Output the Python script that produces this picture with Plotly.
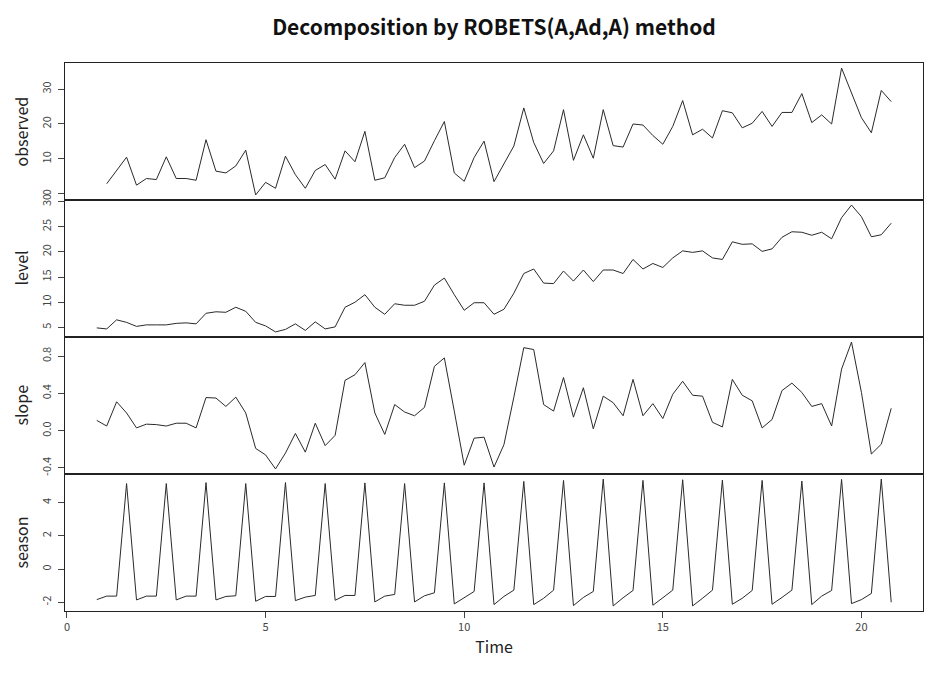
import plotly.graph_objects as go
from plotly.subplots import make_subplots

# Quarterly series: level/slope/season start at 0.75, observed starts at 1.0
start_components = 0.75
start_observed = 1.0
freq = 4

observed = [2.9, 6.7, 10.5, 2.5, 4.4, 4.1, 10.6, 4.4, 4.4, 3.9,
            15.5, 6.5, 6.0, 8.0, 12.5, -0.3, 3.3, 1.6, 10.8, 5.5,
            1.6, 6.7, 8.4, 4.2, 12.3, 9.2, 17.9, 3.9, 4.6, 10.4,
            14.2, 7.5, 9.4, 15.2, 20.7, 6.0, 3.6, 10.4, 15.1, 3.5,
            8.6, 13.7, 24.6, 14.7, 8.7, 12.3, 24.1, 9.6, 16.9, 10.2,
            24.1, 13.8, 13.4, 20.0, 19.7, 16.7, 14.2, 19.3, 26.7, 16.9,
            18.5, 16.0, 23.8, 23.2, 18.9, 20.2, 23.6, 19.3, 23.3, 23.3,
            28.7, 20.4, 22.6, 20.0, 36.0, 29.0, 21.8, 17.5, 29.6, 26.4]

level = [4.9, 4.7, 6.5, 6.0, 5.2, 5.5, 5.5, 5.5, 5.8, 5.9,
         5.7, 7.8, 8.1, 8.0, 9.0, 8.2, 6.0, 5.3, 4.1, 4.6,
         5.7, 4.4, 6.1, 4.7, 5.1, 9.0, 10.0, 11.5, 9.0, 7.6,
         9.7, 9.4, 9.4, 10.2, 13.4, 14.8, 11.5, 8.4, 9.9, 9.9,
         7.6, 8.6, 11.8, 15.7, 16.6, 13.8, 13.7, 16.2, 14.2, 16.4,
         14.1, 16.4, 16.4, 15.7, 18.5, 16.6, 17.7, 16.9, 18.8, 20.2,
         19.9, 20.2, 18.8, 18.5, 22.0, 21.5, 21.6, 20.1, 20.6, 22.9,
         24.0, 23.9, 23.3, 23.9, 22.6, 26.8, 29.3, 27.0, 23.0, 23.4,
         25.7]

slope = [0.11, 0.05, 0.31, 0.19, 0.03, 0.07, 0.065, 0.05, 0.08, 0.08,
         0.03, 0.355, 0.35, 0.26, 0.36, 0.19, -0.19, -0.26, -0.41, -0.24,
         -0.03, -0.23, 0.08, -0.16, -0.05, 0.54, 0.60, 0.73, 0.19, -0.04,
         0.28, 0.20, 0.16, 0.25, 0.69, 0.78, 0.21, -0.37, -0.08, -0.07,
         -0.39, -0.15, 0.36, 0.89, 0.87, 0.28, 0.21, 0.57, 0.145, 0.46,
         0.02, 0.37, 0.30, 0.16, 0.55, 0.16, 0.29, 0.13, 0.39, 0.53,
         0.38, 0.37, 0.09, 0.04, 0.55, 0.38, 0.32, 0.03, 0.12, 0.43,
         0.51, 0.41, 0.26, 0.29, 0.05, 0.66, 0.95, 0.41, -0.25, -0.145,
         0.24]

season = [-1.84, -1.63, -1.63, 5.14, -1.86, -1.63, -1.63, 5.14, -1.86, -1.63,
          -1.63, 5.2, -1.86, -1.65, -1.61, 5.14, -1.94, -1.65, -1.65, 5.2,
          -1.9, -1.69, -1.59, 5.14, -1.88, -1.59, -1.59, 5.18, -1.98, -1.63,
          -1.53, 5.14, -1.98, -1.61, -1.43, 5.18, -2.10, -1.71, -1.35, 5.18,
          -2.14, -1.65, -1.27, 5.27, -2.14, -1.76, -1.27, 5.33, -2.2, -1.71,
          -1.35, 5.41, -2.22, -1.73, -1.29, 5.33, -2.18, -1.73, -1.27, 5.37,
          -2.22, -1.76, -1.27, 5.35, -2.12, -1.76, -1.29, 5.33, -2.12, -1.71,
          -1.27, 5.29, -2.14, -1.63, -1.29, 5.39, -2.08, -1.84, -1.47, 5.41,
          -2.0]

panel_names = ["observed", "level", "slope", "season"]
ytick_vals = [[0, 10, 20, 30], [5, 10, 15, 20, 25, 30],
              [-0.4, 0.0, 0.4, 0.8], [-2, 0, 2, 4]]
ytick_text = [["0", "10", "20", "30"], ["5", "10", "15", "20", "25", "30"],
              ["-0.4", "0.0", "0.4", "0.8"], ["-2", "0", "2", "4"]]
xtick_vals = [0, 5, 10, 15, 20]

t_obs = [start_observed + i / freq for i in range(len(observed))]
t_comp = [start_components + i / freq for i in range(len(level))]

series = [(t_obs, observed), (t_comp, level), (t_comp, slope), (t_comp, season)]

FONT = "Noto Sans CJK JP"
fig = make_subplots(rows=4, cols=1, shared_xaxes=True, vertical_spacing=0)

for i, (tx, ty) in enumerate(series):
    fig.add_trace(go.Scatter(x=tx, y=ty, mode="lines",
                             line=dict(color="#2a2a2a", width=1),
                             showlegend=False, hoverinfo="skip"),
                  row=i + 1, col=1)
    lo, hi = min(ty), max(ty)
    pad = 0.04 * (hi - lo)
    fig.update_yaxes(range=[lo - pad, hi + pad], tickvals=ytick_vals[i],
                     ticktext=ytick_text[i], tickangle=-90,
                     ticks="outside", ticklen=6, tickcolor="#444",
                     ticklabelstandoff=3,
                     tickfont=dict(family=FONT, size=11, color="#444"),
                     showgrid=False, zeroline=False, showline=True,
                     mirror=True, linecolor="#222", linewidth=1,
                     automargin=False,
                     row=i + 1, col=1)

all_t = t_comp
xlo, xhi = min(all_t), max(all_t)
xpad = 0.04 * (xhi - xlo)
fig.update_xaxes(range=[xlo - xpad, xhi + xpad], showgrid=False, zeroline=False,
                 showline=True, mirror=True, linecolor="#222", linewidth=1,
                 showticklabels=False, ticks="", automargin=False)
fig.update_xaxes(tickvals=xtick_vals, ticks="outside", ticklen=6, tickcolor="#444",
                 showticklabels=True,
                 tickfont=dict(family=FONT, size=11, color="#444"),
                 title=dict(text="Time", font=dict(family=FONT, size=16, color="#222"),
                            standoff=8),
                 row=4, col=1)

annotations = []
for i, name in enumerate(panel_names):
    dom = fig.layout["yaxis" + ("" if i == 0 else str(i + 1))].domain
    annotations.append(dict(text=name, xref="paper", yref="paper",
                            x=(20 - 65) / 858, y=(dom[0] + dom[1]) / 2,
                            textangle=-90, showarrow=False,
                            font=dict(family=FONT, size=16, color="#222"),
                            xanchor="center", yanchor="middle"))

# page body has an 8px offset; size the figure so the plot lands where the reference has it
fig.update_layout(
    width=942, height=672,
    margin=dict(l=57, r=27, t=55, b=69),
    paper_bgcolor="white", plot_bgcolor="white",
    title=dict(text="<b>Decomposition by ROBETS(A,Ad,A) method</b>",
               x=0.5, xref="paper", y=1 - 20 / 672, yanchor="middle",
               font=dict(family=FONT, size=21, color="#111")),
    annotations=annotations,
)

fig.write_html("out.html")
